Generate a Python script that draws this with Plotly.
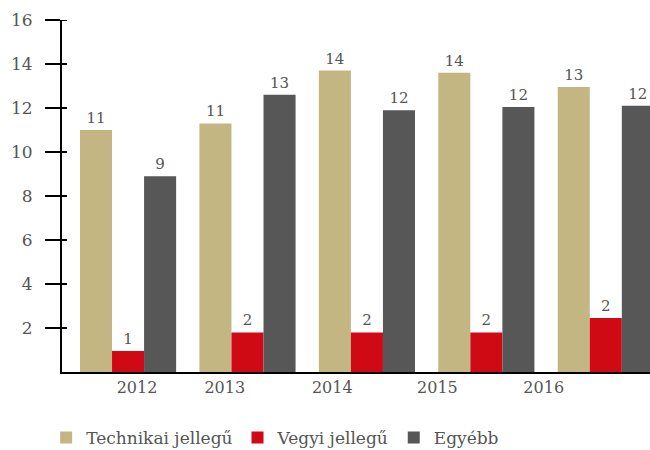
import plotly.graph_objects as go

years = ["2012", "2013", "2014", "2015", "2016"]
technikai = [11.0, 11.3, 13.7, 13.6, 12.95]
vegyi = [0.95, 1.8, 1.8, 1.8, 2.45]
egyeb = [8.9, 12.6, 11.9, 12.05, 12.1]

series_names = ["Technikai jellegű", "Vegyi jellegű", "Egyébb"]
series_colors = ["#C4B683", "#D00A14", "#575757"]
y_ticks = [2, 4, 6, 8, 10, 12, 14, 16]

FONT = "DejaVu Serif"
TEXT_COLOR = "#555555"

x_pos = list(range(len(years)))
# year labels sit slightly off the group centres
year_label_pos = [0.075, 0.81, 1.71, 2.59, 3.48]

fig = go.Figure()
for name, vals, col in zip(series_names, [technikai, vegyi, egyeb], series_colors):
    fig.add_trace(go.Bar(
        x=x_pos, y=vals, name=name,
        marker=dict(color=col, line=dict(width=0)),
        texttemplate="%{y:.0f}", textposition="outside",
        textfont=dict(family=FONT, size=15, color=TEXT_COLOR),
        cliponaxis=False,
    ))

# short inner stubs so each y tick crosses the axis line
for v in y_ticks:
    fig.add_shape(
        type="line", xref="x", xsizemode="pixel", xanchor=-0.553,
        x0=0, x1=5, yref="y", y0=v, y1=v,
        line=dict(color="black", width=2), layer="above",
    )

fig.update_layout(
    width=650, height=450,
    margin=dict(l=62, r=0, t=20, b=78),
    paper_bgcolor="white", plot_bgcolor="white",
    barmode="group", bargap=0.195, bargroupgap=0,
    showlegend=True,
    legend=dict(
        orientation="h", xref="container", x=0.071, xanchor="left",
        yref="container", y=0.027, yanchor="middle",
        font=dict(family=FONT, size=17, color=TEXT_COLOR),
        itemsizing="constant", traceorder="normal",
        itemwidth=30,
    ),
    xaxis=dict(
        range=[-0.553, 4.37], tickmode="array",
        tickvals=year_label_pos, ticktext=years,
        showgrid=False, zeroline=False, ticks="",
        showline=True, linecolor="black", linewidth=2,
        tickfont=dict(family=FONT, size=16, color=TEXT_COLOR),
    ),
    yaxis=dict(
        range=[0, 16], tickmode="array", tickvals=y_ticks,
        showgrid=False, zeroline=False,
        ticks="outside", ticklen=15, tickwidth=2, tickcolor="black",
        showline=True, linecolor="black", linewidth=2,
        tickfont=dict(family=FONT, size=17, color=TEXT_COLOR),
        ticklabelstandoff=9,
    ),
)

fig.write_html("out.html")
